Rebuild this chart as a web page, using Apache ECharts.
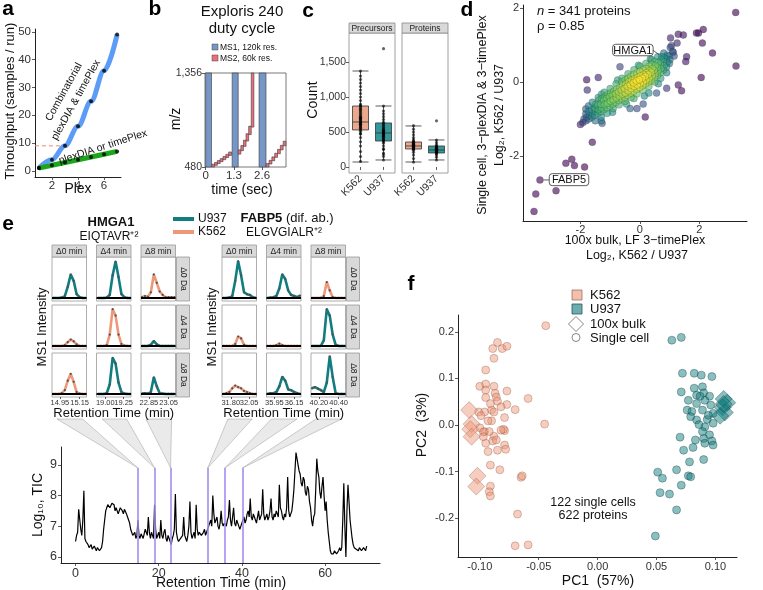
<!DOCTYPE html>
<html lang="en" style="height: 100%">
<head>
  <meta charset="utf-8">
</head>
<body style="height: 100%; margin: 0; background: #fff">
  <div id="container" style="width: 763px; height: 590px"></div>

  <script type="text/javascript" src="https://fastly.jsdelivr.net/npm/echarts@6/dist/echarts.min.js"></script>
  <script type="text/javascript">
    // ---------- data ----------
    // a: throughput vs plex
    var plexLevels = [1, 2, 3, 4, 5, 6, 7];
    var combinatorialThroughput = [1, 4, 9, 16, 25, 36, 49];
    var singleThroughput = [1, 2, 3, 4, 5, 6, 7];

    // b: duty cycle, [start s, end s] and [start s, end s, m/z low, m/z high]
    var mzRange = [480, 1356];
    var ms1Scans = [[0, 0.27], [1.22, 1.5], [2.46, 2.78]];
    var ms2Windows = [
      [0.28, 0.41, 480, 506], [0.41, 0.54, 496, 522], [0.54, 0.67, 512, 540], [0.67, 0.80, 530, 558],
      [0.80, 0.93, 548, 578], [0.93, 1.06, 568, 598], [1.06, 1.19, 588, 620],
      [1.50, 1.62, 600, 640], [1.62, 1.74, 632, 680], [1.74, 1.86, 672, 730], [1.86, 1.98, 722, 790],
      [1.98, 2.10, 782, 860], [2.10, 2.22, 852, 1356],
      [2.79, 2.92, 480, 512], [2.92, 3.05, 508, 542], [3.05, 3.18, 538, 574], [3.18, 3.31, 570, 608],
      [3.31, 3.44, 604, 644], [3.44, 3.57, 640, 682], [3.57, 3.70, 678, 720]
    ];
    var timeTicks = [0, 1.3, 2.6];

    // c: counts per cell  [min, q1, median, q3, max]
    var cellTypes = ['K562', 'U937'];
    var precursorBox = [[71, 529, 643, 871, 1371], [100, 371, 486, 629, 871]];
    var proteinBox = [[71, 257, 300, 357, 586], [100, 200, 243, 300, 386]];
    var precursorK562 = [80, 150, 220, 300, 360, 420, 470, 480, 510, 530, 550, 560, 570, 590, 600, 610, 615, 630, 640, 650,
      665, 680, 690, 700, 710, 720, 740, 760, 780, 800, 820, 830, 850, 870, 880, 900, 950, 1000, 1050, 1100, 1150, 1200, 1250, 1300, 1370];
    var precursorU937 = [100, 150, 180, 200, 250, 260, 300, 340, 360, 380, 390, 400, 420, 430, 440, 450, 460, 470, 475, 480,
      490, 500, 510, 520, 530, 540, 560, 580, 600, 620, 640, 680, 720, 760, 800, 870, 1690];
    var proteinK562 = [70, 120, 170, 210, 240, 255, 260, 265, 275, 280, 285, 295, 300, 305, 310, 315, 325, 330, 335, 345,
      350, 355, 370, 390, 420, 460, 500, 540, 590];
    var proteinU937 = [100, 140, 170, 190, 200, 210, 215, 220, 230, 235, 240, 245, 250, 255, 260, 265, 270, 280, 290, 300,
      320, 350, 385, 660];

    // d: [100x bulk log2 ratio, single cell log2 ratio]
    var proteinRatios = [
      [3.22, 1.88], [3.23, 0.43], [2.44, 0.78], [2.10, 1.05], [2.13, 1.42], [1.90, 1.32], [1.97, 1.32], [2.06, 0.12],
      [1.46, 1.27], [1.29, 1.29], [1.03, 1.19], [1.25, 1.05], [1.06, 0.98], [1.02, 0.93], [1.12, 0.80], [1.57, 0.68],
      [1.54, 0.55], [1.29, -0.08], [1.40, -0.24], [0.90, -0.17], [0.56, -0.30], [0.18, -0.95], [0.11, -0.60],
      [-0.10, -0.72], [-0.33, -0.72], [-0.67, 0.41], [-1.40, 0.12], [-1.77, -0.22], [-1.79, 0.06], [-1.29, -0.33],
      [-1.82, -0.73], [-1.73, -0.65], [-1.50, -0.72], [-1.30, -1.05], [-1.27, -1.12], [-1.60, -1.63], [-2.29, -2.09],
      [-2.49, -2.20], [-2.20, -2.26], [-1.86, -2.30], [-3.36, -2.65], [-3.50, -3.03], [-2.82, -2.94], [-3.56, -3.50],
      [0.73, 0.68],
      [-1.92, -1.10], [-1.88, -1.00], [-1.81, -1.05], [-1.79, -0.95], [-1.82, -0.86], [-1.71, -1.00], [-1.69, -0.90],
      [-1.72, -0.80], [-1.61, -0.95], [-1.59, -0.85], [-1.62, -0.75], [-1.51, -0.90], [-1.49, -0.80], [-1.52, -0.70],
      [-1.48, -0.60], [-1.41, -0.85], [-1.39, -0.75], [-1.42, -0.62], [-1.38, -0.50], [-1.31, -0.80], [-1.29, -0.70],
      [-1.32, -0.60], [-1.28, -0.45], [-1.21, -0.75], [-1.19, -0.62], [-1.22, -0.50], [-1.18, -0.40], [-1.11, -0.70],
      [-1.09, -0.58], [-1.12, -0.45], [-1.08, -0.35], [-1.01, -0.65], [-0.99, -0.52], [-1.02, -0.40], [-0.98, -0.30],
      [-0.91, -0.60], [-0.89, -0.48], [-0.92, -0.36], [-0.88, -0.25], [-0.81, -0.55], [-0.79, -0.43], [-0.82, -0.32],
      [-0.78, -0.20], [-0.71, -0.50], [-0.69, -0.38], [-0.72, -0.27], [-0.68, -0.15], [-0.61, -0.45], [-0.59, -0.33],
      [-0.62, -0.22], [-0.58, -0.10], [-0.60, 0.00], [-0.51, -0.42], [-0.49, -0.30], [-0.52, -0.18], [-0.48, -0.06],
      [-0.50, 0.05], [-0.41, -0.36], [-0.39, -0.24], [-0.42, -0.12], [-0.38, 0.00], [-0.40, 0.10], [-0.31, -0.30],
      [-0.29, -0.18], [-0.32, -0.08], [-0.28, 0.04], [-0.30, 0.15], [-0.21, -0.25], [-0.19, -0.12], [-0.22, -0.02],
      [-0.18, 0.08], [-0.20, 0.20], [-0.11, -0.20], [-0.09, -0.08], [-0.12, 0.03], [-0.08, 0.12], [-0.10, 0.24],
      [-0.01, -0.15], [0.01, -0.04], [-0.02, 0.06], [0.02, 0.16], [0.00, 0.28], [0.09, -0.10], [0.11, 0.00],
      [0.08, 0.10], [0.12, 0.20], [0.10, 0.32], [0.19, -0.05], [0.21, 0.05], [0.18, 0.15], [0.22, 0.25], [0.20, 0.36],
      [0.29, 0.00], [0.31, 0.10], [0.28, 0.20], [0.32, 0.30], [0.30, 0.42], [0.39, 0.05], [0.41, 0.16], [0.38, 0.26],
      [0.42, 0.36], [0.40, 0.48], [0.49, 0.12], [0.51, 0.22], [0.48, 0.32], [0.52, 0.44], [0.50, 0.55], [0.59, 0.18],
      [0.61, 0.30], [0.58, 0.40], [0.62, 0.52], [0.69, 0.25], [0.71, 0.36], [0.68, 0.48], [0.72, 0.60], [0.79, 0.32],
      [0.81, 0.44], [0.78, 0.55], [0.82, 0.66], [0.89, 0.40], [0.91, 0.52], [0.88, 0.62], [0.92, 0.72], [0.99, 0.50],
      [1.01, 0.60], [0.98, 0.70],
      [-1.60, -0.55], [-1.40, -0.42], [-1.20, -0.28], [-1.00, -0.18], [-0.80, -0.05], [-0.60, 0.10], [-0.40, 0.22],
      [-0.20, 0.33], [0.00, 0.42], [0.20, 0.50], [0.40, 0.60], [0.60, 0.68], [0.80, 0.78],
      [-1.50, -1.05], [-1.30, -0.95], [-1.10, -0.85], [-0.90, -0.72], [-0.70, -0.62], [-0.50, -0.52], [-0.30, -0.42],
      [-0.10, -0.32], [0.10, -0.22], [0.30, -0.12], [0.50, 0.00], [0.70, 0.10], [0.90, 0.25],
      [-0.20, -0.45], [0.30, -0.30], [0.15, -0.38], [-0.45, -0.60], [0.62, -0.05], [-0.92, -0.82], [-0.05, 0.45],
      [0.35, 0.62], [-0.75, 0.05], [1.10, 0.82], [1.15, 0.70], [-2.00, -1.15]
    ];
    var labelledProteins = [['HMGA1', 0.73, 0.68], ['FABP5', -3.36, -2.65]];

    // e: extracted ion chromatograms, rows = Δ0/Δ4/Δ8 Da, cols = Δ0/Δ4/Δ8 min
    var hmgaTimes = [
      [14.88, 14.91, 14.94, 14.97, 15.00, 15.03, 15.06, 15.09, 15.12, 15.15, 15.18, 15.21],
      [18.90, 18.94, 18.98, 19.02, 19.06, 19.10, 19.14, 19.18, 19.22, 19.26, 19.30, 19.34],
      [22.78, 22.81, 22.84, 22.87, 22.90, 22.93, 22.96, 22.99, 23.02, 23.05, 23.08, 23.11]
    ];
    var fabpTimes = [
      [31.70, 31.74, 31.78, 31.82, 31.86, 31.90, 31.94, 31.98, 32.02, 32.06, 32.10, 32.14],
      [35.88, 35.91, 35.94, 35.97, 36.00, 36.03, 36.06, 36.09, 36.12, 36.15, 36.18, 36.21],
      [40.13, 40.16, 40.19, 40.22, 40.25, 40.28, 40.31, 40.34, 40.37, 40.40, 40.43, 40.46]
    ];
    var hmgaRanges = [[14.87, 15.22], [18.88, 19.35], [22.77, 23.12]];
    var fabpRanges = [[31.68, 32.15], [35.87, 36.22], [40.12, 40.47]];
    var hmgaTicks = [[14.95, 15.15], [19.00, 19.25], [22.85, 23.05]];
    var fabpTicks = [[31.80, 32.05], [35.95, 36.15], [40.20, 40.40]];
    var peakChannel = [['U937', 'U937', 'K562'], ['K562', 'K562', 'U937'], ['K562', 'U937', 'U937']];
    var hmgaPeaks = [
      [[0, 0, 0, 0.01, 0.05, 0.30, 0.62, 0.45, 0.10, 0.02, 0, 0],
       [0, 0, 0, 0.01, 0.08, 0.60, 0.96, 0.55, 0.10, 0.02, 0, 0],
       [0.02, 0.05, 0.03, 0.15, 0.62, 0.40, 0.17, 0.08, 0.02, 0.02, 0.02, 0.02]],
      [[0, 0, 0, 0, 0.02, 0.10, 0.17, 0.12, 0.04, 0, 0, 0],
       [0, 0, 0, 0.02, 0.30, 0.97, 0.80, 0.30, 0.05, 0.01, 0, 0],
       [0, 0, 0, 0.03, 0.13, 0.04, 0, 0, 0, 0, 0, 0]],
      [[0, 0, 0, 0.02, 0.10, 0.35, 0.53, 0.32, 0.05, 0.01, 0, 0],
       [0, 0, 0, 0.02, 0.25, 0.95, 0.80, 0.30, 0.05, 0.01, 0, 0],
       [0.01, 0.02, 0.01, 0.05, 0.44, 0.20, 0.02, 0.01, 0, 0, 0, 0]]
    ];
    var fabpPeaks = [
      [[0, 0, 0.01, 0.05, 0.45, 0.97, 0.60, 0.15, 0.10, 0.08, 0.02, 0],
       [0, 0.01, 0.02, 0.05, 0.25, 0.62, 0.50, 0.20, 0.08, 0.05, 0.02, 0.06],
       [0, 0, 0, 0, 0.05, 0.42, 0.20, 0.02, 0, 0, 0, 0]],
      [[0, 0, 0, 0, 0.05, 0.25, 0.20, 0.03, 0, 0, 0, 0],
       [0, 0, 0, 0.02, 0.06, 0.02, 0, 0, 0, 0, 0, 0],
       [0, 0, 0, 0, 0.15, 0.97, 0.80, 0.30, 0.03, 0, 0, 0]],
      [[0, 0.02, 0.05, 0.15, 0.22, 0.18, 0.15, 0.08, 0.05, 0.02, 0, 0],
       [0, 0.02, 0.02, 0.05, 0.20, 0.45, 0.35, 0.12, 0.10, 0.05, 0.02, 0],
       [0.15, 0.18, 0.14, 0.10, 0.05, 0.30, 0.99, 0.45, 0.02, 0, 0, 0]]
    ];

    // e: total ion current, one value every 0.25 min from 0 to 70 min
    var ticStep = 0.25;
    var ticLog10 = [
      6.5, 6.7, 6.8, 7.55, 7.5, 6.9, 6.7, 7.2, 8.15, 6.6, 6.5, 6.45, 6.4, 6.3, 6.3, 6.4, 6.25, 6.2, 6.35, 6.3,
      6.2, 6.3, 6.3, 6.2, 6.2, 6.3, 6.5, 6.9, 7.2, 7.5, 7.6, 7.7, 7.7, 7.6, 7.6, 7.75, 7.8, 7.7, 7.5, 7.6,
      7.55, 7.4, 7.45, 7.6, 7.6, 7.5, 7.4, 7.55, 7.5, 7.4, 7.3, 7.2, 7.1, 6.9, 6.8, 6.7, 6.7, 6.8, 6.6, 6.7,
      7.2, 6.7, 6.6, 6.75, 6.7, 6.6, 6.6, 6.9, 6.8, 6.7, 7.3, 6.8, 6.6, 6.8, 6.7, 6.6, 7.7, 6.9, 6.6, 6.7,
      6.8, 6.6, 7.2, 6.7, 6.6, 6.8, 6.9, 6.6, 6.5, 6.7, 6.6, 6.5, 6.4, 6.6, 6.7, 6.9, 8.05, 6.8, 6.6, 6.5,
      6.5, 6.6, 6.6, 6.7, 7.3, 6.7, 6.6, 6.5, 6.7, 7.0, 7.8, 6.8, 6.6, 6.7, 6.8, 6.6, 7.7, 6.9, 6.7, 6.8,
      6.8, 6.7, 6.7, 6.8, 6.9, 6.7, 6.7, 6.9, 7.0, 7.1, 7.2, 7.0, 8.0, 7.4, 7.1, 7.2, 7.3, 7.0, 6.9, 7.1,
      7.5, 7.1, 7.0, 7.1, 7.1, 7.0, 7.2, 7.3, 7.85, 7.2, 7.0, 7.3, 7.6, 7.1, 7.0, 7.2, 7.1, 7.0, 6.9, 7.0,
      7.0, 7.2, 7.3, 7.1, 7.2, 7.4, 7.5, 7.3, 7.9, 7.3, 7.2, 7.4, 7.3, 7.2, 7.1, 7.3, 7.5, 7.2, 7.3, 7.4,
      8.2, 7.4, 7.2, 7.3, 7.4, 7.2, 7.3, 7.5, 7.9, 7.3, 7.2, 7.4, 7.3, 7.5, 7.4, 7.3, 8.35, 7.6, 7.5, 7.3,
      7.2, 7.4, 7.3, 7.6, 8.6, 7.5, 7.3, 7.4, 7.5, 7.8, 8.2, 8.8, 9.4, 9.2, 9.0, 8.8, 8.7, 8.4, 8.3, 8.6,
      8.5, 8.1, 8.0, 8.3, 8.2, 7.8, 7.6, 7.2, 7.0, 7.3, 7.4, 8.2, 9.2, 8.8, 8.6, 8.1, 7.9, 8.3, 8.6, 8.0,
      7.5, 7.8, 7.2, 6.8, 6.5, 6.2, 6.1, 6.05, 6.1, 6.2, 6.2, 6.1, 6.1, 6.2, 6.3, 6.2, 6.3, 7.2, 8.4, 7.0,
      6.0, 7.5, 8.35, 7.8, 7.2, 6.9, 6.6, 6.4, 6.3, 6.3, 6.25, 6.2, 6.2, 6.3, 6.3, 6.2, 6.2, 6.3, 6.25, 6.2,
      6.35
    ];
    var ticMarkTop = 8.9;

    // f: PCA, [PC1, PC2]
    var k562Cells = [
      [-0.044, 0.213], [-0.085, 0.177], [-0.089, 0.164], [-0.081, 0.164], [-0.077, 0.169], [-0.088, 0.143], [-0.095, 0.118],
      [-0.100, 0.083], [-0.095, 0.088], [-0.088, 0.083], [-0.095, 0.075], [-0.077, 0.073], [-0.087, 0.068], [-0.086, 0.060],
      [-0.085, 0.051], [-0.095, 0.059], [-0.077, 0.044], [-0.059, 0.057], [-0.070, 0.033], [-0.079, 0.016], [-0.090, 0.032],
      [-0.096, 0.028], [-0.090, 0.009], [-0.093, 0.009], [-0.045, 0.002], [-0.079, -0.012], [-0.080, -0.009], [-0.096, -0.014],
      [-0.088, -0.024], [-0.089, -0.034], [-0.095, -0.039], [-0.085, -0.054], [-0.079, -0.043], [-0.078, -0.052], [-0.093, -0.057],
      [-0.091, -0.086], [-0.083, -0.096], [-0.065, -0.112], [-0.064, -0.109], [-0.091, -0.131], [-0.092, -0.143], [-0.091, -0.152],
      [-0.068, -0.191], [-0.070, -0.259], [-0.059, -0.257], [-0.091, 0.046], [-0.082, 0.039], [-0.100, -0.006], [-0.088, 0.028],
      [-0.092, -0.014], [-0.086, -0.032], [-0.082, -0.011], [-0.101, 0.028], [-0.099, 0.020], [-0.097, -0.015], [-0.097, -0.025]
    ];
    var k562Bulk = [[-0.109, 0.032], [-0.107, 0.002], [-0.108, -0.009], [-0.107, -0.025], [-0.102, -0.109], [-0.103, -0.132]];
    var u937Cells = [
      [0.063, 0.182], [0.071, 0.188], [0.072, 0.111], [0.082, 0.111], [0.088, 0.107], [0.097, 0.104], [0.071, 0.071], [0.082, 0.079],
      [0.089, 0.082], [0.090, 0.069], [0.084, 0.064], [0.095, 0.062], [0.091, 0.053], [0.084, 0.046], [0.096, 0.043], [0.076, 0.032],
      [0.089, 0.032], [0.080, 0.029], [0.098, 0.025], [0.093, 0.012], [0.084, 0.011], [0.098, 0.004], [0.091, -0.004], [0.089, -0.014],
      [0.095, -0.021], [0.090, -0.029], [0.083, -0.032], [0.097, -0.034], [0.070, -0.026], [0.091, -0.039], [0.098, -0.043], [0.073, -0.054],
      [0.081, -0.048], [0.090, -0.074], [0.078, -0.079], [0.067, -0.096], [0.077, -0.109], [0.079, -0.111], [0.051, -0.101], [0.055, -0.114],
      [0.071, -0.129], [0.053, -0.145], [0.061, -0.148], [0.067, -0.182], [0.049, -0.238], [0.086, 0.001], [0.079, 0.018], [0.094, 0.021],
      [0.087, 0.062], [0.077, 0.053]
    ];
    var u937Bulk = [[0.107, 0.056], [0.110, 0.048], [0.106, 0.038], [0.108, 0.027], [0.104, 0.020], [0.107, 0.045]];

    // ---------- helpers ----------
    var FONT = '"Liberation Sans", Arial, Helvetica, sans-serif';
    var TEAL = '#127d80';
    var SALMON = '#ee987a';
    var chColor = { U937: TEAL, K562: SALMON };

    var grids = [], xAxes = [], yAxes = [], series = [];

    function addGrid(l, t, w, h, border) {
      grids.push({
        left: l, top: t, width: w, height: h, containLabel: false, outerBoundsMode: 'none',
        show: !!border, borderColor: border || '#fff', borderWidth: border ? 0.8 : 0, backgroundColor: 'transparent'
      });
      return grids.length - 1;
    }

    function valAxis(gi, min, max, ticks, o) {
      o = o || {};
      return {
        type: 'value', gridIndex: gi, min: min, max: max,
        axisLine: { show: o.line !== false, onZero: false, lineStyle: { color: '#222', width: 1 } },
        axisTick: { show: !!ticks, customValues: ticks || [], length: o.tickLen || 3, lineStyle: { color: '#333', width: 0.8 } },
        axisLabel: {
          show: !!ticks && o.labels !== false, customValues: ticks || [], hideOverlap: false,
          fontSize: o.fontSize || 11, color: '#333', fontFamily: FONT, margin: o.margin || 4, formatter: o.fmt
        },
        splitLine: { show: false }
      };
    }

    function txt(x, y, s, size, o) {
      o = o || {};
      return {
        type: 'text', x: x, y: y, rotation: o.rot || 0, z: 100, silent: true,
        style: {
          text: s, fontSize: size, fontFamily: FONT, fontWeight: o.bold ? 'bold' : 'normal',
          fill: o.color || '#111', align: o.align || 'center', verticalAlign: o.va || 'middle', rich: o.rich
        }
      };
    }

    function windowRect(params, api) {
      var a = api.coord([api.value(0), api.value(3)]);
      var b = api.coord([api.value(1), api.value(2)]);
      var cs = params.coordSys;
      var shape = echarts.graphic.clipRectByRect(
        { x: a[0], y: a[1], width: b[0] - a[0], height: b[1] - a[1] },
        { x: cs.x, y: cs.y, width: cs.width, height: cs.height });
      return shape && { type: 'rect', shape: shape, style: { fill: api.visual('color'), stroke: '#3a3a3a', lineWidth: 0.6 } };
    }

    // ---------- a ----------
    var gA = addGrid(35, 29, 86, 148);
    xAxes.push(valAxis(gA, 0.7, 7.3, [2, 4, 6], { fontSize: 11.5, margin: 3 }));
    yAxes.push(valAxis(gA, -2.2, 51, [0, 10, 20, 30, 40, 50], { fontSize: 11.5 }));
    series.push({
      type: 'line', xAxisIndex: gA, yAxisIndex: gA, silent: true, showSymbol: false, z: 1,
      data: [[0.7, combinatorialThroughput[2]], [plexLevels[2], combinatorialThroughput[2]]],
      lineStyle: { color: '#f08a70', width: 1, type: [4, 3] }
    });
    series.push({
      type: 'line', xAxisIndex: gA, yAxisIndex: gA, silent: true, showSymbol: false, smooth: 0.35, smoothMonotone: 'x', z: 2,
      data: plexLevels.map(function (p, i) { return [p, combinatorialThroughput[i]]; }),
      lineStyle: { color: '#5c9cf6', width: 5 }
    });
    series.push({
      type: 'line', xAxisIndex: gA, yAxisIndex: gA, silent: true, showSymbol: false, z: 2,
      data: plexLevels.map(function (p, i) { return [p, singleThroughput[i]]; }),
      lineStyle: { color: '#1ea51e', width: 5 }
    });
    series.push({
      type: 'scatter', xAxisIndex: gA, yAxisIndex: gA, silent: true, symbolSize: 4, z: 3, itemStyle: { color: '#000' },
      data: plexLevels.map(function (p, i) { return [p, combinatorialThroughput[i]]; })
        .concat(plexLevels.map(function (p, i) { return [p, singleThroughput[i]]; }))
    });

    // ---------- b ----------
    var gB = addGrid(205, 73, 81, 94, '#555');
    xAxes.push(valAxis(gB, -0.03, 3.7, timeTicks, { line: false, fontSize: 11.5, margin: 3 }));
    yAxes.push(valAxis(gB, mzRange[0], mzRange[1], mzRange, {
      line: false, fontSize: 10.5, margin: 3,
      fmt: function (v) { return v.toLocaleString('en-US'); }
    }));
    series.push({
      type: 'custom', xAxisIndex: gB, yAxisIndex: gB, silent: true, renderItem: windowRect,
      itemStyle: { color: '#7596c6' }, encode: { x: [0, 1], y: [2, 3] },
      data: ms1Scans.map(function (s) { return [s[0], s[1], mzRange[0], mzRange[1]]; })
    });
    series.push({
      type: 'custom', xAxisIndex: gB, yAxisIndex: gB, silent: true, renderItem: windowRect,
      itemStyle: { color: '#ea6f7b' }, encode: { x: [0, 1], y: [2, 3] },
      data: ms2Windows
    });

    // ---------- c ----------
    var boxFill = ['#eaa98d', '#34989a'];
    var cPanels = [
      { left: 349, box: precursorBox, pts: [precursorK562, precursorU937], labels: true },
      { left: 402, box: proteinBox, pts: [proteinK562, proteinU937], labels: false }
    ];
    cPanels.forEach(function (p) {
      var gi = addGrid(p.left, 33, 46, 140, '#888');
      xAxes.push({
        type: 'category', gridIndex: gi, data: cellTypes,
        axisLine: { show: false }, splitLine: { show: false },
        axisTick: { show: true, alignWithLabel: true, length: 3, lineStyle: { color: '#333', width: 0.8 } },
        axisLabel: { rotate: 45, fontSize: 10.5, color: '#333', fontFamily: FONT, margin: 4, interval: 0 }
      });
      yAxes.push(valAxis(gi, -86, 1914, p.labels ? [0, 500, 1000, 1500] : null, {
        line: false, fontSize: 10.5, margin: 3,
        fmt: function (v) { return v.toLocaleString('en-US'); }
      }));
      series.push({
        type: 'boxplot', xAxisIndex: gi, yAxisIndex: gi, silent: true, boxWidth: [16, 16], z: 2,
        data: p.box.map(function (b, i) {
          return { value: b, itemStyle: { color: boxFill[i], borderColor: '#333', borderWidth: 0.8 } };
        })
      });
      series.push({
        type: 'scatter', xAxisIndex: gi, yAxisIndex: gi, silent: true, symbolSize: 3.2, z: 3,
        itemStyle: { color: 'rgba(0,0,0,0.75)' },
        data: p.pts[0].map(function (v) { return [0, v]; }).concat(p.pts[1].map(function (v) { return [1, v]; }))
      });
    });

    // ---------- d ----------
    var gD = addGrid(523, 5, 224, 216);
    xAxes.push(valAxis(gD, -3.93, 3.6, [-2, 0, 2], { fontSize: 11, margin: 3 }));
    yAxes.push(valAxis(gD, -3.76, 2.08, [-2, 0, 2], { fontSize: 11, margin: 4 }));
    // point colour = 2d kernel density of the points themselves (as in the original plot)
    var bw = 0.4;
    var rawDens = proteinRatios.map(function (p) {
      var s = 0;
      proteinRatios.forEach(function (q) {
        var dx = p[0] - q[0], dy = p[1] - q[1];
        s += Math.exp(-(dx * dx + dy * dy) / (2 * bw * bw));
      });
      return s;
    });
    var maxDens = Math.max.apply(null, rawDens);
    var ratioDens = proteinRatios.map(function (p, i) {
      return [p[0], p[1], Math.pow(rawDens[i] / maxDens, 1.6)];
    }).sort(function (a, b) { return a[2] - b[2]; });
    var dSeriesIndex = series.length;
    series.push({
      type: 'scatter', xAxisIndex: gD, yAxisIndex: gD, silent: true, symbolSize: 7, z: 2,
      itemStyle: { opacity: 0.62, borderColor: 'rgba(30,30,30,0.55)', borderWidth: 0.6 },
      data: ratioDens
    });

    // ---------- e: small multiples ----------
    var peakGroups = [
      { times: hmgaTimes, ranges: hmgaRanges, ticks: hmgaTicks, peaks: hmgaPeaks, lefts: [52, 96.5, 141], stripX: 176.5 },
      { times: fabpTimes, ranges: fabpRanges, ticks: fabpTicks, peaks: fabpPeaks, lefts: [222, 266.5, 311], stripX: 346.5 }
    ];
    var smallW = 34.5, rowTops = [257, 305, 353], rowH = 44;
    peakGroups.forEach(function (g) {
      g.grid = [];
      for (var r = 0; r < 3; r++) {
        for (var c = 0; c < 3; c++) {
          var gi = addGrid(g.lefts[c], rowTops[r], smallW, rowH, '#999');
          g.grid.push(gi);
          xAxes.push(valAxis(gi, g.ranges[c][0], g.ranges[c][1], r === 2 ? g.ticks[c] : null, {
            line: false, labels: false, tickLen: 2
          }));
          yAxes.push(valAxis(gi, -0.08, 1.08, null, { line: false }));
          var ys = g.peaks[r][c];
          series.push({
            type: 'line', xAxisIndex: gi, yAxisIndex: gi, silent: true, symbol: 'circle', symbolSize: 2.2,
            showSymbol: true, z: 3,
            itemStyle: { color: '#505050' },
            lineStyle: { color: chColor[peakChannel[r][c]], width: 2.6 },
            data: g.times[c].map(function (t, i) { return [t, ys[i]]; }),
            markLine: {
              silent: true, symbol: ['none', 'none'], label: { show: false }, animation: false,
              lineStyle: { color: '#000', width: 2, type: 'solid' }, data: [{ yAxis: 0 }]
            }
          });
        }
      }
    });

    // ---------- e: TIC ----------
    var gT = addGrid(61, 447, 319, 116);
    xAxes.push(valAxis(gT, -3.5, 73.2, [0, 20, 40, 60], { fontSize: 12.5, margin: 4 }));
    yAxes.push(valAxis(gT, 5.8, 9.58, [6, 7, 8, 9], { fontSize: 12.5, margin: 4 }));
    var rtMarks = hmgaTicks.concat(fabpTicks).map(function (t) { return t[0]; });
    series.push({
      type: 'line', xAxisIndex: gT, yAxisIndex: gT, silent: true, showSymbol: false, z: 2,
      lineStyle: { color: '#000', width: 1.2 },
      data: ticLog10.map(function (v, i) { return [i * ticStep, v]; }),
      markLine: {
        silent: true, symbol: ['none', 'none'], label: { show: false }, animation: false,
        lineStyle: { color: '#a48cf0', width: 1.6, type: 'solid' },
        data: rtMarks.map(function (t) { return [{ coord: [t, 5.8] }, { coord: [t, ticMarkTop] }]; })
      }
    });

    // ---------- f ----------
    var gF = addGrid(458, 315, 279, 242);
    xAxes.push(valAxis(gF, -0.1185, 0.1183, [-0.1, -0.05, 0, 0.05, 0.1], {
      fontSize: 11, margin: 4, fmt: function (v) { return v.toFixed(2); }
    }));
    yAxes.push(valAxis(gF, -0.283, 0.236, [-0.2, -0.1, 0, 0.1, 0.2], {
      fontSize: 11, margin: 4, fmt: function (v) { return v.toFixed(1); }
    }));
    var pcaSalmon = { color: 'rgba(236,150,119,0.6)', borderColor: 'rgba(130,70,50,0.55)', borderWidth: 0.7 };
    var pcaTeal = { color: 'rgba(18,125,128,0.62)', borderColor: 'rgba(10,45,45,0.6)', borderWidth: 0.7 };
    series.push({ type: 'scatter', xAxisIndex: gF, yAxisIndex: gF, silent: true, symbolSize: 8, itemStyle: pcaSalmon, data: k562Cells });
    series.push({ type: 'scatter', xAxisIndex: gF, yAxisIndex: gF, silent: true, symbolSize: 8, itemStyle: pcaTeal, data: u937Cells });
    series.push({ type: 'scatter', xAxisIndex: gF, yAxisIndex: gF, silent: true, symbol: 'diamond', symbolSize: 17, itemStyle: pcaSalmon, data: k562Bulk });
    series.push({ type: 'scatter', xAxisIndex: gF, yAxisIndex: gF, silent: true, symbol: 'diamond', symbolSize: 17, itemStyle: pcaTeal, data: u937Bulk });

    var dom = document.getElementById('container');
    var myChart = echarts.init(dom, null, { renderer: 'canvas' });
    myChart.setOption({
      animation: false,
      backgroundColor: '#fff',
      textStyle: { fontFamily: FONT },
      grid: grids, xAxis: xAxes, yAxis: yAxes, series: series,
      visualMap: [{
        show: false, type: 'continuous', seriesIndex: dSeriesIndex, dimension: 2, min: 0, max: 1,
        inRange: { color: ['#440154', '#3b528b', '#21918c', '#5ec962', '#fde725'] }
      }]
    });

    // ---------- annotations ----------
    var R90 = Math.PI / 2;
    var g = [];
    // panel letters
    [['a', 8, 9], ['b', 155, 9], ['c', 308, 11], ['d', 467, 10], ['e', 8, 224], ['f', 411, 284]].forEach(function (l) {
      g.push(txt(l[1], l[2], l[0], 21, { bold: true, color: '#000' }));
    });
    // a
    g.push(txt(10, 101, 'Throughput (samples / run)', 13, { rot: R90 }));
    g.push(txt(78, 189, 'Plex', 14));
    g.push(txt(64, 92, 'Combinatorial', 10.5, { rot: 61 * Math.PI / 180 }));
    g.push(txt(76, 100, 'plexDIA & timePlex', 10.5, { rot: 61 * Math.PI / 180 }));
    g.push(txt(103, 147, 'plexDIA or timePlex', 10.5, { rot: 18 * Math.PI / 180 }));
    // b
    g.push(txt(242, 12, 'Exploris 240', 15));
    g.push(txt(242, 29, 'duty cycle', 15));
    g.push({ type: 'rect', shape: { x: 212, y: 44, width: 6, height: 6 }, style: { fill: '#7596c6', stroke: '#444', lineWidth: 0.5 } });
    g.push({ type: 'rect', shape: { x: 212, y: 55, width: 6, height: 6 }, style: { fill: '#ea6f7b', stroke: '#444', lineWidth: 0.5 } });
    g.push(txt(220, 47.5, 'MS1, 120k res.', 8.5, { align: 'left' }));
    g.push(txt(220, 58.5, 'MS2, 60k res.', 8.5, { align: 'left' }));
    g.push(txt(176, 119, 'm/z', 14, { rot: R90 }));
    g.push(txt(242, 190, 'time (sec)', 14));
    // c
    [[349, 'Precursors'], [402, 'Proteins']].forEach(function (s) {
      g.push({ type: 'rect', shape: { x: s[0], y: 23, width: 46, height: 10 }, style: { fill: '#d9d9d9', stroke: '#888', lineWidth: 0.8 } });
      g.push(txt(s[0] + 23, 28.5, s[1], 8.5, { color: '#222' }));
    });
    g.push(txt(313, 100, 'Count', 14, { rot: R90 }));
    // d
    g.push(txt(537, 11, '{it|n} = 341 proteins', 13, { align: 'left', rich: { it: { fontStyle: 'italic', fontSize: 13, fontFamily: FONT, fill: '#111' } } }));
    g.push(txt(537, 26, 'ρ = 0.85', 13, { align: 'left' }));
    g.push(txt(483, 115, 'Single cell, 3−plexDIA & 3−timePlex', 12.5, { rot: R90 }));
    g.push(txt(500, 115, 'Log₂, K562 / U937', 12.5, { rot: R90 }));
    g.push(txt(635, 241, '100x bulk, LF 3−timePlex', 12.5));
    g.push(txt(637, 256, 'Log₂, K562 / U937', 12.5));
    labelledProteins.forEach(function (lp) {
      var p = myChart.convertToPixel({ gridIndex: gD }, [lp[1], lp[2]]);
      var box, line;
      if (lp[0] === 'HMGA1') {
        box = [p[0] - 49, p[1] - 12.5, 40.5, 11.5];
        line = [p[0] - 8.5, p[1] - 6.5, p[0] - 2.5, p[1] - 2];
      } else {
        box = [p[0] + 9.3, p[1] - 6.3, 39.5, 12];
        line = [p[0] + 3.5, p[1], p[0] + 9.3, p[1]];
      }
      g.push({ type: 'line', shape: { x1: line[0], y1: line[1], x2: line[2], y2: line[3] }, style: { stroke: '#333', lineWidth: 0.8 }, z: 99 });
      g.push({ type: 'rect', shape: { x: box[0], y: box[1], width: box[2], height: box[3], r: 3 }, style: { fill: '#fff', stroke: '#333', lineWidth: 0.8 }, z: 99 });
      g.push(txt(box[0] + box[2] / 2, box[1] + box[3] / 2 + 0.5, lp[0], 11));
    });
    // e headings and legend
    g.push(txt(111, 222, 'HMGA1', 13, { bold: true }));
    g.push(txt(109, 237, 'EIQTAVR⁺²', 12));
    g.push(txt(287, 218, '{b|FABP5} (dif. ab.)', 13, { rich: { b: { fontWeight: 'bold', fontSize: 13, fontFamily: FONT, fill: '#111' } } }));
    g.push(txt(284, 233, 'ELGVGIALR⁺²', 12));
    g.push({ type: 'line', shape: { x1: 173, y1: 219, x2: 194, y2: 219 }, style: { stroke: TEAL, lineWidth: 4 } });
    g.push({ type: 'line', shape: { x1: 173, y1: 232, x2: 194, y2: 232 }, style: { stroke: SALMON, lineWidth: 4 } });
    g.push(txt(198, 219, 'U937', 12, { align: 'left' }));
    g.push(txt(198, 232, 'K562', 12, { align: 'left' }));
    var colNames = ['Δ0 min', 'Δ4 min', 'Δ8 min'], rowNames = ['Δ0 Da', 'Δ4 Da', 'Δ8 Da'];
    peakGroups.forEach(function (pg) {
      for (var c = 0; c < 3; c++) {
        g.push({ type: 'rect', shape: { x: pg.lefts[c], y: 245, width: smallW, height: 12 }, style: { fill: '#d9d9d9', stroke: '#999', lineWidth: 0.8 } });
        g.push(txt(pg.lefts[c] + smallW / 2, 251.5, colNames[c], 8.5, { color: '#222' }));
        // bottom tick labels of the retention time axes
        var gi = pg.grid[6 + c];
        pg.ticks[c].forEach(function (t) {
          var px = myChart.convertToPixel({ gridIndex: gi }, [t, 0])[0];
          g.push(txt(px, rowTops[2] + rowH + 6, t.toFixed(2), 7.5, { color: '#333' }));
        });
        // wedges from each chromatogram column down to the TIC marker
        var lo = myChart.convertToPixel({ gridIndex: gi }, [pg.ticks[c][0], 0])[0];
        var hi = myChart.convertToPixel({ gridIndex: gi }, [pg.ticks[c][1], 0])[0];
        var apex = myChart.convertToPixel({ gridIndex: gT }, [pg.ticks[c][0], ticMarkTop]);
        g.push({
          type: 'polygon', silent: true, z: 1,
          shape: { points: [[lo - 3, 419], [hi + 3, 419], apex] },
          style: { fill: 'rgba(170,170,170,0.25)', stroke: 'rgba(110,110,110,0.55)', lineWidth: 0.6 }
        });
      }
      for (var r = 0; r < 3; r++) {
        g.push({ type: 'rect', shape: { x: pg.stripX, y: rowTops[r], width: 13, height: rowH }, style: { fill: '#d9d9d9', stroke: '#999', lineWidth: 0.8 } });
        g.push(txt(pg.stripX + 6.5, rowTops[r] + rowH / 2, rowNames[r], 8.5, { color: '#222', rot: -R90 }));
      }
      var cx = (pg.lefts[0] + pg.lefts[2] + smallW) / 2;
      g.push(txt(cx, 413, 'Retention Time (min)', 13));
      g.push(txt(pg.lefts[0] - 10, 327, 'MS1 Intensity', 13, { rot: R90 }));
    });
    g.push(txt(38, 505, 'Log₁₀, TIC', 14, { rot: R90 }));
    g.push(txt(221, 583, 'Retention Time (min)', 14));
    // f
    g.push({ type: 'rect', shape: { x: 572, y: 290, width: 10, height: 10 }, style: { fill: 'rgba(236,150,119,0.6)', stroke: '#a0705e', lineWidth: 0.8 } });
    g.push({ type: 'rect', shape: { x: 572, y: 304, width: 10, height: 10 }, style: { fill: 'rgba(18,125,128,0.62)', stroke: '#2f5555', lineWidth: 0.8 } });
    g.push({ type: 'polygon', shape: { points: [[576, 316.5], [583.5, 324], [576, 331.5], [568.5, 324]] }, style: { fill: 'none', stroke: '#666', lineWidth: 0.8 } });
    g.push({ type: 'circle', shape: { cx: 576, cy: 337.5, r: 4 }, style: { fill: 'none', stroke: '#666', lineWidth: 0.8 } });
    g.push(txt(590, 295, 'K562', 13, { align: 'left' }));
    g.push(txt(590, 309, 'U937', 13, { align: 'left' }));
    g.push(txt(590, 324, '100x bulk', 13, { align: 'left' }));
    g.push(txt(590, 338, 'Single cell', 13, { align: 'left' }));
    g.push(txt(422, 425, 'PC2  (3%)', 14, { rot: R90 }));
    g.push(txt(598, 581, 'PC1  (57%)', 14));
    g.push(txt(593, 503, '122 single cells', 12.5));
    g.push(txt(593, 516, '622 proteins', 12.5));

    myChart.setOption({ graphic: { elements: g } });

    window.addEventListener('resize', myChart.resize);
  </script>
</body>
</html>
